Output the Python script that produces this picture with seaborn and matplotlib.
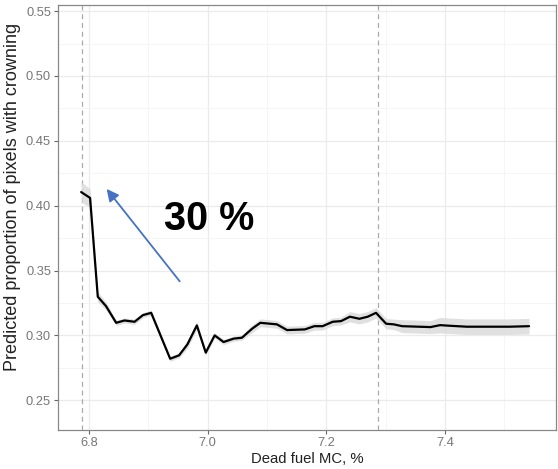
import numpy as np
import pandas as pd
import matplotlib
matplotlib.use("Agg")
import matplotlib.pyplot as plt
import seaborn as sns

# values
mc = [6.787, 6.802, 6.815, 6.829, 6.846, 6.860, 6.877, 6.891, 6.905, 6.937,
      6.952, 6.966, 6.982, 6.997, 7.012, 7.027, 7.044, 7.058, 7.075, 7.089,
      7.117, 7.134, 7.164, 7.180, 7.194, 7.211, 7.225, 7.240, 7.256, 7.270,
      7.284, 7.301, 7.314, 7.328, 7.376, 7.392, 7.409, 7.437, 7.510, 7.542]
pred = [0.4105, 0.406, 0.3298, 0.3225, 0.3097, 0.3115, 0.3105, 0.3156, 0.3174, 0.282,
        0.2846, 0.293, 0.3077, 0.2867, 0.300, 0.2949, 0.2975, 0.2982, 0.3051, 0.3097,
        0.3085, 0.3041, 0.3046, 0.3071, 0.3071, 0.3105, 0.311, 0.3144, 0.3128, 0.3144,
        0.3174, 0.309, 0.3085, 0.3071, 0.3064, 0.3079, 0.3074, 0.3067, 0.3067, 0.3071]
half_width = [0.008, 0.007, 0.004, 0.003, 0.002, 0.002, 0.002, 0.002, 0.002, 0.002,
              0.002, 0.003, 0.003, 0.002, 0.002, 0.002, 0.002, 0.002, 0.003, 0.003,
              0.003, 0.003, 0.003, 0.003, 0.003, 0.003, 0.003, 0.004, 0.004, 0.004,
              0.004, 0.004, 0.004, 0.005, 0.005, 0.006, 0.006, 0.006, 0.006, 0.006]
vlines = [6.789, 7.288]

df = pd.DataFrame({"mc": mc, "pred": pred, "hw": half_width})

sns.set_theme(style="whitegrid")
plt.rcParams["font.family"] = ["Liberation Sans", "DejaVu Sans"]

fig = plt.figure(figsize=(5.58, 4.69), dpi=100)
ax = fig.add_axes([0.104, 0.083, 0.892, 0.906])

ax.fill_between(df["mc"], df["pred"] - df["hw"], df["pred"] + df["hw"],
                color="#d9d9d9", alpha=0.8, linewidth=0, zorder=2)
sns.lineplot(data=df, x="mc", y="pred", color="black", linewidth=1.6, ax=ax, zorder=3)

for v in vlines:
    ax.axvline(v, color="#aaaaaa", linestyle=(0, (4, 3)), linewidth=0.9, zorder=1)

ax.set_xlim(6.748, 7.587)
ax.set_ylim(0.227, 0.5546)
ax.set_xticks([6.8, 7.0, 7.2, 7.4])
ax.set_xticklabels(["6.8", "7.0", "7.2", "7.4"])
ax.set_yticks([0.25, 0.30, 0.35, 0.40, 0.45, 0.50, 0.55])
ax.set_yticklabels(["0.25", "0.30", "0.35", "0.40", "0.45", "0.50", "0.55"])
ax.set_xticks([6.9, 7.1, 7.3, 7.5], minor=True)
ax.set_yticks([0.275, 0.325, 0.375, 0.425, 0.475, 0.525], minor=True)

ax.grid(which="major", color="#ebebeb", linewidth=0.9)
ax.grid(which="minor", color="#f4f4f4", linewidth=0.6)
ax.tick_params(which="major", direction="out", length=3, width=0.8, color="#666666",
               labelsize=9.3, labelcolor="#777777", bottom=True, left=True, pad=2)
ax.tick_params(which="minor", length=0)
for s in ax.spines.values():
    s.set_color("#888888")
    s.set_linewidth(0.9)

ax.set_xlabel("Dead fuel MC, %", fontsize=10.7, color="#222222", labelpad=2)
ax.set_ylabel("Predicted proportion of pixels with crowning", fontsize=13,
              color="#222222")
ax.yaxis.set_label_coords(-0.074, 0.548)

ax.annotate("", xy=(6.827, 0.4146), xytext=(6.956, 0.340),
            arrowprops=dict(arrowstyle="-|>", color="#4472C4", lw=1.3,
                            mutation_scale=18))
ax.text(7.002, 0.390, "30 %", fontsize=28.5, fontweight="bold", color="black",
        ha="center", va="center")

fig.savefig("out.png", dpi=100)
